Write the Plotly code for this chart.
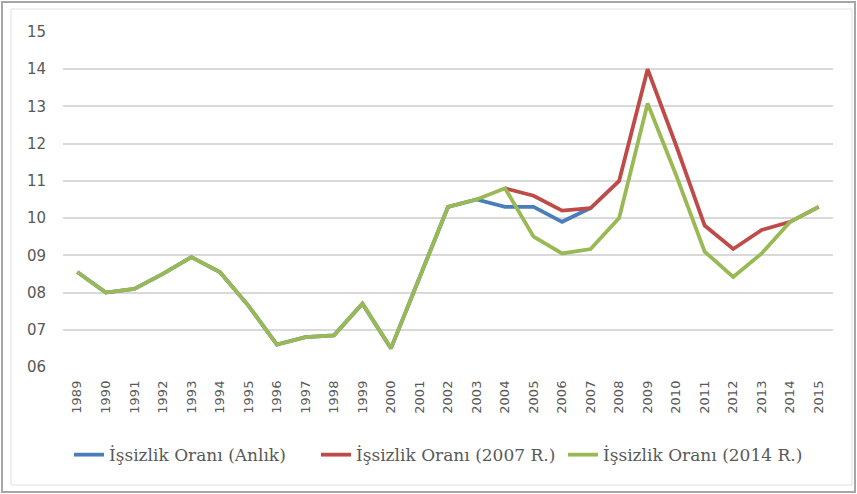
import plotly.graph_objects as go

years = [str(y) for y in range(1989, 2016)]

anlik = [8.55, 8.0, 8.1, 8.5, 8.95, 8.55, 7.65, 6.6, 6.8, 6.85, 7.7, 6.5, 8.4,
         10.3, 10.5, 10.3, 10.3, 9.9, 10.27]
r2007_years = years[15:]
r2007 = [10.8, 10.6, 10.2, 10.27, 11.0, 14.0, 11.95, 9.8, 9.17, 9.68, 9.9, 10.3]
r2014 = [8.55, 8.0, 8.1, 8.5, 8.95, 8.55, 7.65, 6.6, 6.8, 6.85, 7.7, 6.5, 8.4,
         10.3, 10.5, 10.8, 9.5, 9.05, 9.17, 10.0, 13.08, 11.15, 9.1, 8.42, 9.05, 9.9, 10.3]

y_ticks = [6, 7, 8, 9, 10, 11, 12, 13, 14, 15]
y_ticktext = ["06", "07", "08", "09", "10", "11", "12", "13", "14", "15"]

names = ["İşsizlik Oranı (Anlık)", "İşsizlik Oranı (2007 R.)", "İşsizlik Oranı (2014 R.)"]
colors = ["#4A7EBB", "#BE4B48", "#98B954"]

fig = go.Figure()
fig.add_trace(go.Scatter(x=years[:len(anlik)], y=anlik, mode="lines", name=names[0],
                         line=dict(color=colors[0], width=3.8)))
fig.add_trace(go.Scatter(x=r2007_years, y=r2007, mode="lines", name=names[1],
                         line=dict(color=colors[1], width=3.8)))
fig.add_trace(go.Scatter(x=years, y=r2014, mode="lines", name=names[2],
                         line=dict(color=colors[2], width=3.8)))

fig.update_layout(
    width=857, height=494,
    margin=dict(l=63, r=24, t=32, b=127),
    paper_bgcolor="white", plot_bgcolor="white",
    showlegend=True,
    legend=dict(orientation="h", x=0.0078, xanchor="left", y=-0.263, yanchor="middle",
                font=dict(family="DejaVu Serif", size=17, color="#595959"),
                itemwidth=30, tracegroupgap=0, entrywidth=202),
    xaxis=dict(type="category", categoryorder="array", categoryarray=years,
               range=[-0.5, len(years) - 0.5],
               tickangle=-90, showgrid=False, showline=False, zeroline=False,
               ticks="", ticklabelstandoff=10,
               tickfont=dict(family="DejaVu Sans", size=13, color="#595959")),
    yaxis=dict(range=[6, 15], tickvals=y_ticks, ticktext=y_ticktext,
               showgrid=True, gridcolor="#D9D9D9", gridwidth=1.5, zeroline=False,
               showline=False, ticks="", ticklabelstandoff=16,
               tickfont=dict(family="DejaVu Sans", size=15, color="#595959")),
    shapes=[
        dict(type="rect", xref="paper", yref="paper",
             x0=(2 - 63) / 770, x1=(855 - 63) / 770,
             y0=(367 - 492) / 335, y1=(367 - 2) / 335,
             line=dict(color="#A6A6A6", width=2), layer="below"),
        dict(type="rect", xref="paper", yref="paper",
             x0=(11 - 63) / 770, x1=(852 - 63) / 770,
             y0=(367 - 485) / 335, y1=(367 - 9) / 335,
             line=dict(color="#E0E0E0", width=1), layer="below"),
    ],
)

fig.write_html("out.html", config={"displayModeBar": False},
               post_script="document.body.style.margin='0px';")
